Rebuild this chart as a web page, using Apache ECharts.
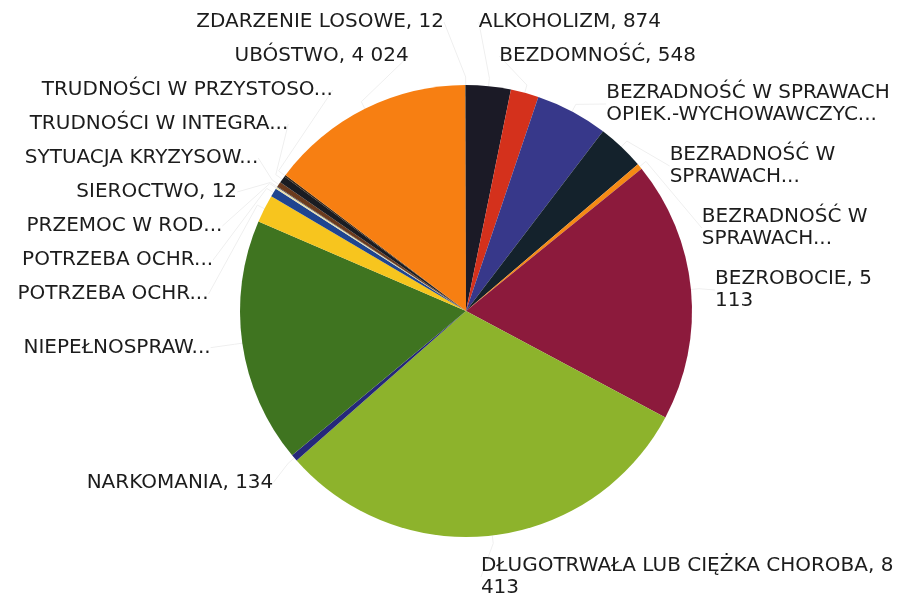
<!DOCTYPE html>
<html>
<head>
<meta charset="utf-8">
<script src="https://cdn.jsdelivr.net/npm/echarts@6/dist/echarts.min.js"></script>
<style>
  html, body { margin: 0; padding: 0; background: #fff; }
  #chart { width: 912px; height: 598px; }
</style>
</head>
<body>
<div id="chart"></div>
<script>
// kategorie (etykiety tak jak na wykresie)
var labels = [
    'ALKOHOLIZM, 874',
    'BEZDOMNOŚĆ, 548',
    'BEZRADNOŚĆ W SPRAWACH\nOPIEK.-WYCHOWAWCZYC...',
    'BEZRADNOŚĆ W\nSPRAWACH...',
    'BEZRADNOŚĆ W\nSPRAWACH...',
    'BEZROBOCIE, 5\n113',
    'DŁUGOTRWAŁA LUB CIĘŻKA CHOROBA, 8\n413',
    'NARKOMANIA, 134',
    'NIEPEŁNOSPRAW...',
    'POTRZEBA OCHR...',
    'POTRZEBA OCHR...',
    'PRZEMOC W ROD...',
    'SIEROCTWO, 12',
    'SYTUACJA KRYZYSOW...',
    'TRUDNOŚCI W INTEGRA...',
    'TRUDNOŚCI W PRZYSTOSO...',
    'UBÓSTWO, 4 024',
    'ZDARZENIE LOSOWE, 12'
];
// liczba osób (wartości nieczytelne oszacowane z rysunku)
var values = [874, 548, 1420, 930, 110, 5113, 8413, 134, 4800, 545, 170, 40, 12, 100, 140, 35, 4024, 12];
var colors = [
    '#1b1a26', '#d4311c', '#37388a', '#14222c', '#f58a14', '#8c1a3c',
    '#8db32c', '#25287a', '#3f7420', '#f7c51e', '#1f4590', '#e8e0b0',
    '#1a2040', '#6b3b1e', '#1a1c22', '#3a2a1a', '#f77f12', '#222222'
];

var W = 912, H = 598;
var cx = 466, cy = 311, R = 226;

var seriesData = [];
for (var i = 0; i < values.length; i++) {
    seriesData.push({
        name: labels[i],
        value: values[i],
        itemStyle: { color: colors[i] }
    });
}

// rozmieszczenie etykiet: naturalna pozycja przy kącie środka wycinka,
// nachodzące na siebie etykiety łączone w bloki i rozsuwane symetrycznie
var labelPos = (function () {
    var total = 0;
    for (var i = 0; i < values.length; i++) total += values[i];
    var acc = 0, items = [];
    for (var i = 0; i < values.length; i++) {
        var mid = (acc + values[i] / 2) / total * Math.PI * 2;
        acc += values[i];
        var lines = labels[i].split('\n').length;
        var c = Math.cos(mid);
        items.push({
            idx: i,
            mid: mid,
            right: Math.sin(mid) >= 0,
            natY: cy - (R + 30 + 12 * Math.max(0, -c)) * c,
            h: lines === 1 ? 34 : 62
        });
    }
    var res = [];
    [true, false].forEach(function (isRight) {
        var list = items.filter(function (it) { return it.right === isRight; });
        list.sort(function (a, b) { return a.natY - b.natY; });
        var blocks = list.map(function (it) { return { items: [it], h: it.h }; });
        function place(b) {
            var off = 0, sum = 0;
            b.items.forEach(function (it) { sum += it.natY - (off + it.h / 2); off += it.h; });
            var top = sum / b.items.length;
            top = Math.max(5, Math.min(H + 12 - b.h, top));
            b.top = top;
        }
        blocks.forEach(place);
        var merged = true;
        while (merged) {
            merged = false;
            for (var j = 1; j < blocks.length; j++) {
                var a = blocks[j - 1], b = blocks[j];
                if (a.top + a.h > b.top) {
                    a.items = a.items.concat(b.items);
                    a.h += b.h;
                    place(a);
                    blocks.splice(j, 1);
                    merged = true;
                    break;
                }
            }
        }
        blocks.forEach(function (b) {
            var off = b.top;
            b.items.forEach(function (it) {
                var y = off + it.h / 2;
                off += it.h;
                var rr = isRight ? 250 : 258;
                var dy = y - cy;
                var dx = Math.sqrt(Math.max(0, rr * rr - dy * dy));
                dx = Math.max(dx, 0.5 * (R + 30) * Math.abs(Math.sin(it.mid)), isRight ? 4 : 22);
                var x = isRight ? cx + dx : cx - dx;
                var ex = cx + R * Math.sin(it.mid), ey = cy - R * Math.cos(it.mid);
                var bx = cx + (R + 8) * Math.sin(it.mid), by = cy - (R + 8) * Math.cos(it.mid);
                res[it.idx] = {
                    x: x, y: y,
                    align: isRight ? 'left' : 'right',
                    line: [[ex, ey], [bx, by], [x, y]]
                };
            });
        });
    });
    return res;
})();

var myChart = echarts.init(document.getElementById('chart'));
var option = {
    animation: false,
    series: [
        {
            type: 'pie',
            center: [cx, cy],
            radius: R,
            startAngle: 90,
            clockwise: true,
            data: seriesData,
            label: {
                show: true,
                formatter: '{b}',
                color: '#1c1c1c',
                fontFamily: 'DejaVu Sans',
                fontSize: 20,
                lineHeight: 22,
                overflow: 'none'
            },
            labelLine: {
                show: true,
                length: 20,
                length2: 6,
                lineStyle: { color: '#efefef', width: 1 }
            },
            labelLayout: function (params) {
                var p = labelPos[params.dataIndex];
                return {
                    x: p.x,
                    y: p.y,
                    align: p.align,
                    verticalAlign: 'middle',
                    labelLinePoints: p.line
                };
            },
            itemStyle: { borderWidth: 0 },
            emphasis: { disabled: true }
        }
    ]
};
myChart.setOption(option);
</script>
</body>
</html>
